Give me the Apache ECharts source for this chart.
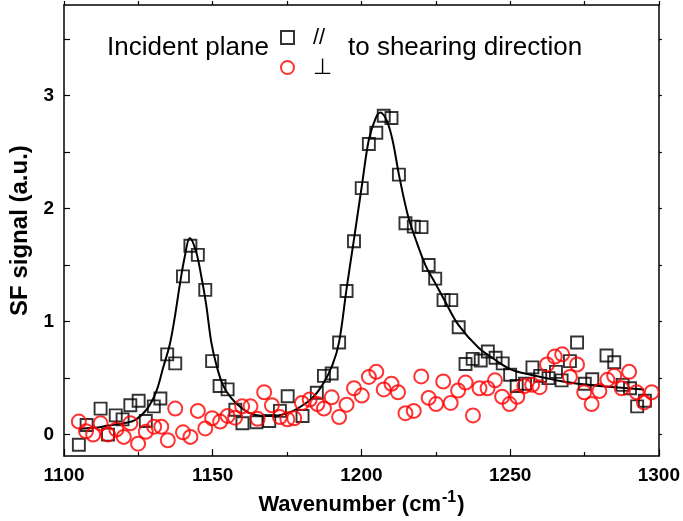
<!DOCTYPE html>
<html>
<head>
<meta charset="utf-8">
<script src="https://cdn.jsdelivr.net/npm/echarts@6/dist/echarts.min.js"></script>
<style>
html,body{margin:0;padding:0;background:#fff;}
#chart{width:683px;height:521px;}
</style>
</head>
<body>
<div id="chart"></div>
<script>
// ---- data ----
const xTicks = [1100, 1150, 1200, 1250, 1300];
const yTickLabels = [0, 1, 2, 3];
const yTickMarks = [0, 0.5, 1, 1.5, 2, 2.5, 3, 3.5];

// incident plane parallel (//) to shearing direction : black squares
const parX = [1105.0,1107.6,1112.3,1114.8,1117.4,1119.7,1122.3,1125.1,1127.5,1130.2,1132.4,1134.7,1137.4,1140.0,1142.5,1145.0,1147.5,1149.8,1152.3,1155.0,1157.6,1160.0,1164.7,1169.0,1172.6,1175.2,1180.2,1185.0,1187.4,1190.0,1192.5,1195.0,1197.5,1200.1,1202.5,1205.0,1207.5,1210.1,1212.6,1214.8,1217.6,1220.2,1222.6,1224.8,1227.6,1230.2,1232.7,1235.0,1237.4,1240.1,1242.5,1245.1,1247.5,1250.0,1252.2,1255.0,1257.5,1260.1,1262.9,1265.4,1267.3,1270.1,1272.5,1275.1,1277.6,1282.4,1285.0,1287.8,1290.3,1292.7,1295.3];
const parY = [-0.09,0.085,0.23,0.0,0.17,0.135,0.26,0.30,0.12,0.25,0.32,0.71,0.63,1.40,1.67,1.59,1.28,0.65,0.43,0.40,0.22,0.10,0.11,0.12,0.21,0.34,0.165,0.37,0.52,0.54,0.815,1.27,1.71,2.18,2.57,2.67,2.82,2.80,2.30,1.87,1.84,1.835,1.50,1.38,1.19,1.19,0.95,0.625,0.67,0.655,0.735,0.68,0.63,0.53,0.43,0.45,0.595,0.52,0.50,0.555,0.48,0.65,0.815,0.45,0.49,0.70,0.64,0.44,0.41,0.25,0.30];

// incident plane perpendicular to shearing direction : red circles
const perpX = [1105.0,1107.4,1109.8,1112.3,1114.8,1117.6,1120.1,1122.3,1124.9,1127.5,1130.3,1132.7,1134.9,1137.4,1140.0,1142.5,1145.0,1147.5,1149.8,1152.5,1155.0,1157.5,1159.9,1162.7,1165.1,1167.3,1169.9,1172.6,1175.1,1177.4,1180.0,1182.6,1185.2,1187.4,1190.0,1192.5,1195.0,1197.5,1200.1,1202.5,1205.0,1207.5,1210.1,1212.3,1214.8,1217.6,1220.1,1222.6,1225.1,1227.5,1230.0,1232.5,1235.0,1237.5,1239.7,1242.4,1244.9,1247.3,1249.8,1252.4,1254.8,1257.4,1259.9,1262.4,1265.0,1267.5,1270.1,1272.5,1274.9,1277.4,1280.0,1282.7,1285.0,1287.5,1290.0,1292.5,1295.0,1297.6];
const perpY = [0.115,0.03,0.0,0.10,0.0,0.045,-0.02,0.10,-0.08,0.025,0.07,0.07,-0.05,0.23,0.02,-0.02,0.21,0.055,0.145,0.115,0.165,0.15,0.25,0.25,0.14,0.375,0.26,0.155,0.135,0.145,0.28,0.31,0.27,0.23,0.33,0.155,0.265,0.41,0.345,0.51,0.555,0.40,0.45,0.375,0.19,0.21,0.515,0.325,0.27,0.47,0.28,0.39,0.46,0.17,0.41,0.41,0.48,0.335,0.27,0.335,0.43,0.44,0.42,0.62,0.69,0.71,0.51,0.62,0.375,0.27,0.385,0.485,0.52,0.41,0.555,0.375,0.285,0.375];

// fitted curve through the parallel data
const fitX = [1105,1110,1115,1120,1124,1128,1131,1133.3,1135.5,1137.2,1138.9,1140.5,1142.3,1144.4,1146.1,1147.8,1149.5,1151.2,1153.4,1156.2,1159.5,1163.4,1168,1172,1175.2,1179.1,1183.5,1186.9,1190.3,1192.5,1195,1197.5,1200.3,1202.5,1204.8,1206.3,1208.5,1210.5,1212.6,1215.6,1218.2,1221.5,1224.8,1228.1,1232.6,1239.3,1245,1250,1255,1262,1270,1280,1295];
const fitY = [0.05,0.06,0.08,0.10,0.13,0.23,0.38,0.59,0.79,1.03,1.32,1.56,1.74,1.62,1.41,1.15,0.82,0.62,0.44,0.325,0.24,0.18,0.165,0.17,0.19,0.24,0.325,0.44,0.62,0.82,1.29,1.73,2.23,2.61,2.80,2.85,2.78,2.60,2.30,1.94,1.73,1.50,1.34,1.18,0.97,0.77,0.66,0.58,0.54,0.50,0.46,0.43,0.40];

const legendNames = ['//', '\u22A5'];
const legendPrefix = 'Incident plane';
const legendSuffix = 'to shearing direction';
const xName = 'Wavenumber (cm';
const xNameSup = '-1';
const yName = 'SF signal (a.u.)';

// ---- build ----
const zip = (xs, ys) => xs.map((x, i) => [x, ys[i]]);
const FONT = '"Liberation Sans", Arial, sans-serif';
const chart = echarts.init(document.getElementById('chart'), null, {renderer: 'canvas'});

const axisLineStyle = {color: '#000', width: 1.5};

chart.setOption({
  animation: false,
  backgroundColor: '#fff',
  grid: {left: 64, right: 22, top: 5, bottom: 63, containLabel: false},
  legend: {
    orient: 'vertical',
    left: 280, top: 25,
    padding: 0,
    itemWidth: 13, itemHeight: 13, itemGap: 5,
    selectedMode: false,
    textStyle: {fontFamily: FONT, fontSize: 22, lineHeight: 25, color: '#000', padding: [0, 0, 0, 14]},
    data: [{name: legendNames[0], icon: 'rect'}, {name: legendNames[1], icon: 'circle'}]
  },
  graphic: [
    {type: 'text', left: 107, top: 35, style: {text: legendPrefix, font: '26px ' + FONT, fill: '#000'}},
    {type: 'text', left: 348, top: 35, style: {text: legendSuffix, font: '26px ' + FONT, fill: '#000'}}
  ],
  xAxis: [
    {
      type: 'value', position: 'bottom', min: xTicks[0], max: xTicks[xTicks.length - 1], interval: 50,
      axisLine: {show: true, onZero: false, lineStyle: axisLineStyle},
      axisTick: {show: true, inside: true, length: 7, lineStyle: {color: '#000', width: 1.2}},
      minorTick: {show: true, splitNumber: 2, length: 4, lineStyle: {color: '#000', width: 1.2}},
      axisLabel: {show: true, margin: 10, color: '#000', fontFamily: FONT, fontSize: 19, fontWeight: 'bold',
                  formatter: v => String(v)},
      splitLine: {show: false},
      name: '{a|' + xName + '}{s|' + xNameSup + '}{a|)}',
      nameLocation: 'middle', nameGap: 29,
      nameTextStyle: {
        rich: {
          a: {fontFamily: FONT, fontSize: 22, fontWeight: 'bold', color: '#000', verticalAlign: 'bottom', lineHeight: 26},
          s: {fontFamily: FONT, fontSize: 16, fontWeight: 'bold', color: '#000', verticalAlign: 'top', lineHeight: 26, padding: [0, 1, 10, 1]}
        }
      }
    },
    {
      type: 'value', position: 'top', min: xTicks[0], max: xTicks[xTicks.length - 1], interval: 50,
      axisLine: {show: true, onZero: false, lineStyle: axisLineStyle},
      axisTick: {show: true, inside: false, length: 4, lineStyle: {color: '#000', width: 1.2}},
      minorTick: {show: true, splitNumber: 2, length: 4, lineStyle: {color: '#000', width: 1.2}},
      axisLabel: {show: false},
      splitLine: {show: false}
    }
  ],
  yAxis: [
    {
      type: 'value', position: 'left', min: -0.19, max: 3.8,
      axisLine: {show: true, onZero: false, lineStyle: axisLineStyle},
      axisTick: {show: true, inside: true, length: 6, customValues: yTickMarks, lineStyle: {color: '#000', width: 1.2}},
      axisLabel: {show: true, margin: 10, customValues: yTickLabels, color: '#000', fontFamily: FONT, fontSize: 19, fontWeight: 'bold'},
      splitLine: {show: false},
      name: yName, nameLocation: 'middle', nameGap: 31, nameRotate: 90,
      nameTextStyle: {fontFamily: FONT, fontSize: 24, fontWeight: 'bold', color: '#000'}
    },
    {
      type: 'value', position: 'right', min: -0.19, max: 3.8,
      axisLine: {show: true, onZero: false, lineStyle: axisLineStyle},
      axisTick: {show: true, inside: false, length: 3, customValues: yTickMarks, lineStyle: {color: '#000', width: 1.2}},
      axisLabel: {show: false},
      splitLine: {show: false}
    }
  ],
  series: [
    {
      name: 'fit', type: 'line', xAxisIndex: 0, yAxisIndex: 0,
      data: zip(fitX, fitY), smooth: 0.35, showSymbol: false, symbol: 'none',
      lineStyle: {color: '#000', width: 2}, silent: true, z: 1
    },
    {
      name: legendNames[0], type: 'scatter', xAxisIndex: 0, yAxisIndex: 0,
      data: zip(parX, parY), symbol: 'rect', symbolSize: 12,
      itemStyle: {color: 'rgba(0,0,0,0)', borderColor: '#000', borderWidth: 1.9}, silent: true, z: 2
    },
    {
      name: legendNames[1], type: 'scatter', xAxisIndex: 0, yAxisIndex: 0,
      data: zip(perpX, perpY), symbol: 'circle', symbolSize: 14,
      itemStyle: {color: 'rgba(0,0,0,0)', borderColor: '#ff0000', borderWidth: 2}, silent: true, z: 3
    }
  ]
});
</script>
</body>
</html>
